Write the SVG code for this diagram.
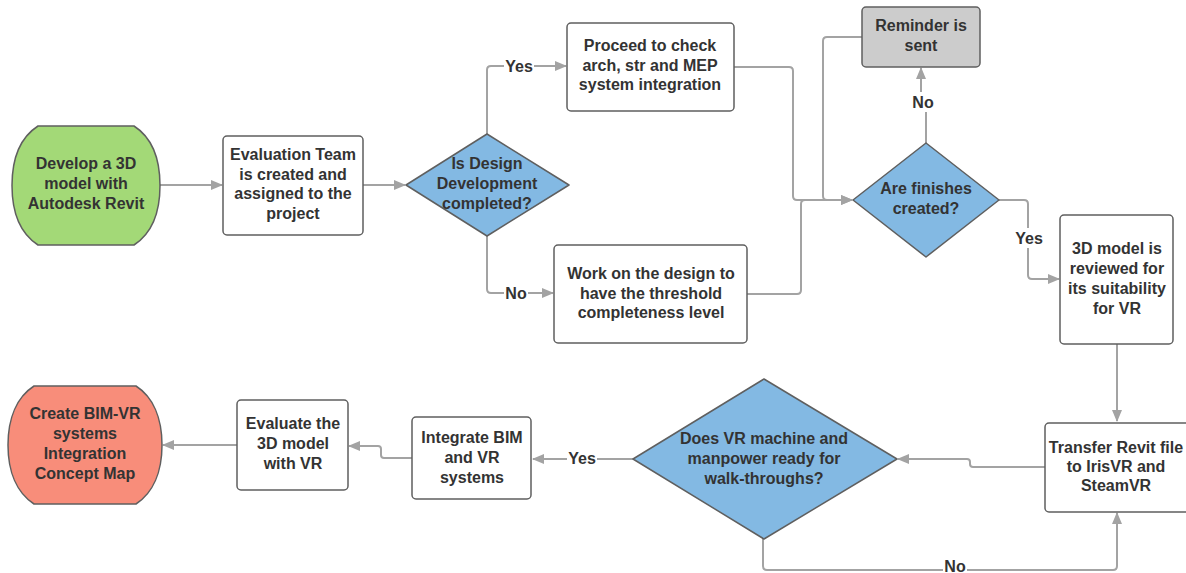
<svg xmlns="http://www.w3.org/2000/svg" width="1186" height="573" viewBox="0 0 1186 573">
<style>
.box{fill:#ffffff;stroke:#5f5f5f;stroke-width:1.5}
.dia{fill:#83b9e3;stroke:#5f5f5f;stroke-width:1.5}
.t{font-family:"Liberation Sans",Arial,sans-serif;font-weight:bold;font-size:16px;fill:#333333;text-anchor:middle}
.c{fill:none;stroke:#a3a3a3;stroke-width:2}
.lb{fill:#ffffff}
</style>
<defs>
<marker id="ah" markerWidth="12" markerHeight="10" refX="11" refY="5" orient="auto" markerUnits="userSpaceOnUse">
<path d="M0,0 L12,5 L0,10 Z" fill="#a3a3a3"/>
</marker>
</defs>
<rect width="1186" height="573" fill="#ffffff"/>
<g id="connectors">
<path class="c" d="M160,185 H222" marker-end="url(#ah)"/>
<path class="c" d="M363,185 H405" marker-end="url(#ah)"/>
<path class="c" d="M487,134 V70 Q487,66 491,66 H566" marker-end="url(#ah)"/>
<path class="c" d="M487,236 V289 Q487,293 491,293 H553" marker-end="url(#ah)"/>
<path class="c" d="M734,67 H789 Q793,67 793,71 V196 Q793,200 797,200 H852" marker-end="url(#ah)"/>
<path class="c" d="M747,294 H797 Q801,294 801,290 V204 Q801,200 805,200"/>
<path class="c" d="M862,37 H827 Q823,37 823,41 V196 Q823,200 827,200 H852" marker-end="url(#ah)"/>
<path class="c" d="M926,143 V100 H921 V68" marker-end="url(#ah)"/>
<path class="c" d="M999,200 H1024 Q1028,200 1028,204 V275 Q1028,279 1032,279 H1059" marker-end="url(#ah)"/>
<path class="c" d="M1117,344 V421" marker-end="url(#ah)"/>
<path class="c" d="M1045,467 H973 Q970,467 970,464 V462 Q970,459 967,459 H898" marker-end="url(#ah)"/>
<path class="c" d="M763,539 V566 Q763,570 767,570 H1113 Q1117,570 1117,566 V513" marker-end="url(#ah)"/>
<path class="c" d="M633,459 H533" marker-end="url(#ah)"/>
<path class="c" d="M412,458 H384 Q381,458 381,455 V449 Q381,446 378,446 H349" marker-end="url(#ah)"/>
<path class="c" d="M237,445 H163" marker-end="url(#ah)"/>
<rect class="lb" x="504" y="56" width="30" height="20"/>
<text class="t" x="519" y="71.5">Yes</text>
<rect class="lb" x="504" y="283" width="24" height="20"/>
<text class="t" x="516" y="298.5">No</text>
<rect class="lb" x="910" y="92" width="26" height="20"/>
<text class="t" x="923" y="107.5">No</text>
<rect class="lb" x="1014" y="228" width="30" height="20"/>
<text class="t" x="1029" y="243.5">Yes</text>
<rect class="lb" x="567" y="448" width="30" height="20"/>
<text class="t" x="582" y="463.5">Yes</text>
<rect class="lb" x="943" y="561" width="24" height="12"/>
<text class="t" x="955" y="572">No</text>
</g>
<g id="n1">
<path d="M38,126 H134 C151,137 160,158 160,185.5 C160,213 151,234 134,245 H38 C21,234 12,213 12,185.5 C12,158 21,137 38,126 Z" fill="#a3d977" stroke="#5f5f5f" stroke-width="1.5"/>
<text class="t" x="86" y="169">Develop a 3D</text>
<text class="t" x="86" y="189">model with</text>
<text class="t" x="86" y="209">Autodesk Revit</text>
</g>
<g id="n2">
<rect class="box" x="223" y="136" width="140" height="99" rx="4"/>
<text class="t" x="293" y="160">Evaluation Team</text>
<text class="t" x="293" y="179.5">is created and</text>
<text class="t" x="293" y="199">assigned to the</text>
<text class="t" x="293" y="218.5">project</text>
</g>
<g id="n3">
<path class="dia" d="M487,134 L569,185 L487,236 L406,185 Z" stroke-linejoin="round"/>
<text class="t" x="487" y="169">Is Design</text>
<text class="t" x="487" y="189">Development</text>
<text class="t" x="487" y="209">completed?</text>
</g>
<g id="n4">
<rect class="box" x="567" y="23" width="167" height="88" rx="4"/>
<text class="t" x="650" y="51">Proceed to check</text>
<text class="t" x="650" y="71">arch, str and MEP</text>
<text class="t" x="650" y="90">system integration</text>
</g>
<g id="n5">
<rect class="box" x="554" y="245" width="193" height="98" rx="4"/>
<text class="t" x="651" y="279">Work on the design to</text>
<text class="t" x="651" y="298.5">have the threshold</text>
<text class="t" x="651" y="318">completeness level</text>
</g>
<g id="n6">
<rect x="862" y="7" width="118" height="60" rx="4" fill="#cccccc" stroke="#5f5f5f" stroke-width="1.5"/>
<text class="t" x="921" y="31">Reminder is</text>
<text class="t" x="921" y="50.5">sent</text>
</g>
<g id="n7">
<path class="dia" d="M926,143 L999,200 L926,257 L853,200 Z" stroke-linejoin="round"/>
<text class="t" x="926" y="194">Are finishes</text>
<text class="t" x="926" y="214">created?</text>
</g>
<g id="n8">
<rect class="box" x="1060" y="215" width="113" height="129" rx="4"/>
<text class="t" x="1117" y="254">3D model is</text>
<text class="t" x="1117" y="274">reviewed for</text>
<text class="t" x="1117" y="294">its suitability</text>
<text class="t" x="1117" y="314">for VR</text>
</g>
<g id="n9">
<rect class="box" x="1045" y="423" width="145" height="89" rx="4"/>
<text class="t" x="1116" y="453">Transfer Revit file</text>
<text class="t" x="1116" y="472">to IrisVR and</text>
<text class="t" x="1116" y="491">SteamVR</text>
</g>
<g id="n10">
<path class="dia" d="M764,379 L897,459 L764,539 L633,459 Z" stroke-linejoin="round"/>
<text class="t" x="764" y="444">Does VR machine and</text>
<text class="t" x="764" y="464">manpower ready for</text>
<text class="t" x="764" y="484">walk-throughs?</text>
</g>
<g id="n11">
<rect class="box" x="412" y="417" width="119" height="82" rx="4"/>
<text class="t" x="472" y="443">Integrate BIM</text>
<text class="t" x="472" y="463">and VR</text>
<text class="t" x="472" y="483">systems</text>
</g>
<g id="n12">
<rect class="box" x="237" y="400" width="111" height="90" rx="4"/>
<text class="t" x="293" y="429">Evaluate the</text>
<text class="t" x="293" y="449">3D model</text>
<text class="t" x="293" y="469">with VR</text>
</g>
<g id="n13">
<path d="M34,386 H136 C153,397 162,418 162,445 C162,472 153,493 136,504 H34 C17,493 8,472 8,445 C8,418 17,397 34,386 Z" fill="#f88d7a" stroke="#5f5f5f" stroke-width="1.5"/>
<text class="t" x="85" y="419">Create BIM-VR</text>
<text class="t" x="85" y="439">systems</text>
<text class="t" x="85" y="459">Integration</text>
<text class="t" x="85" y="479">Concept Map</text>
</g>
</svg>
